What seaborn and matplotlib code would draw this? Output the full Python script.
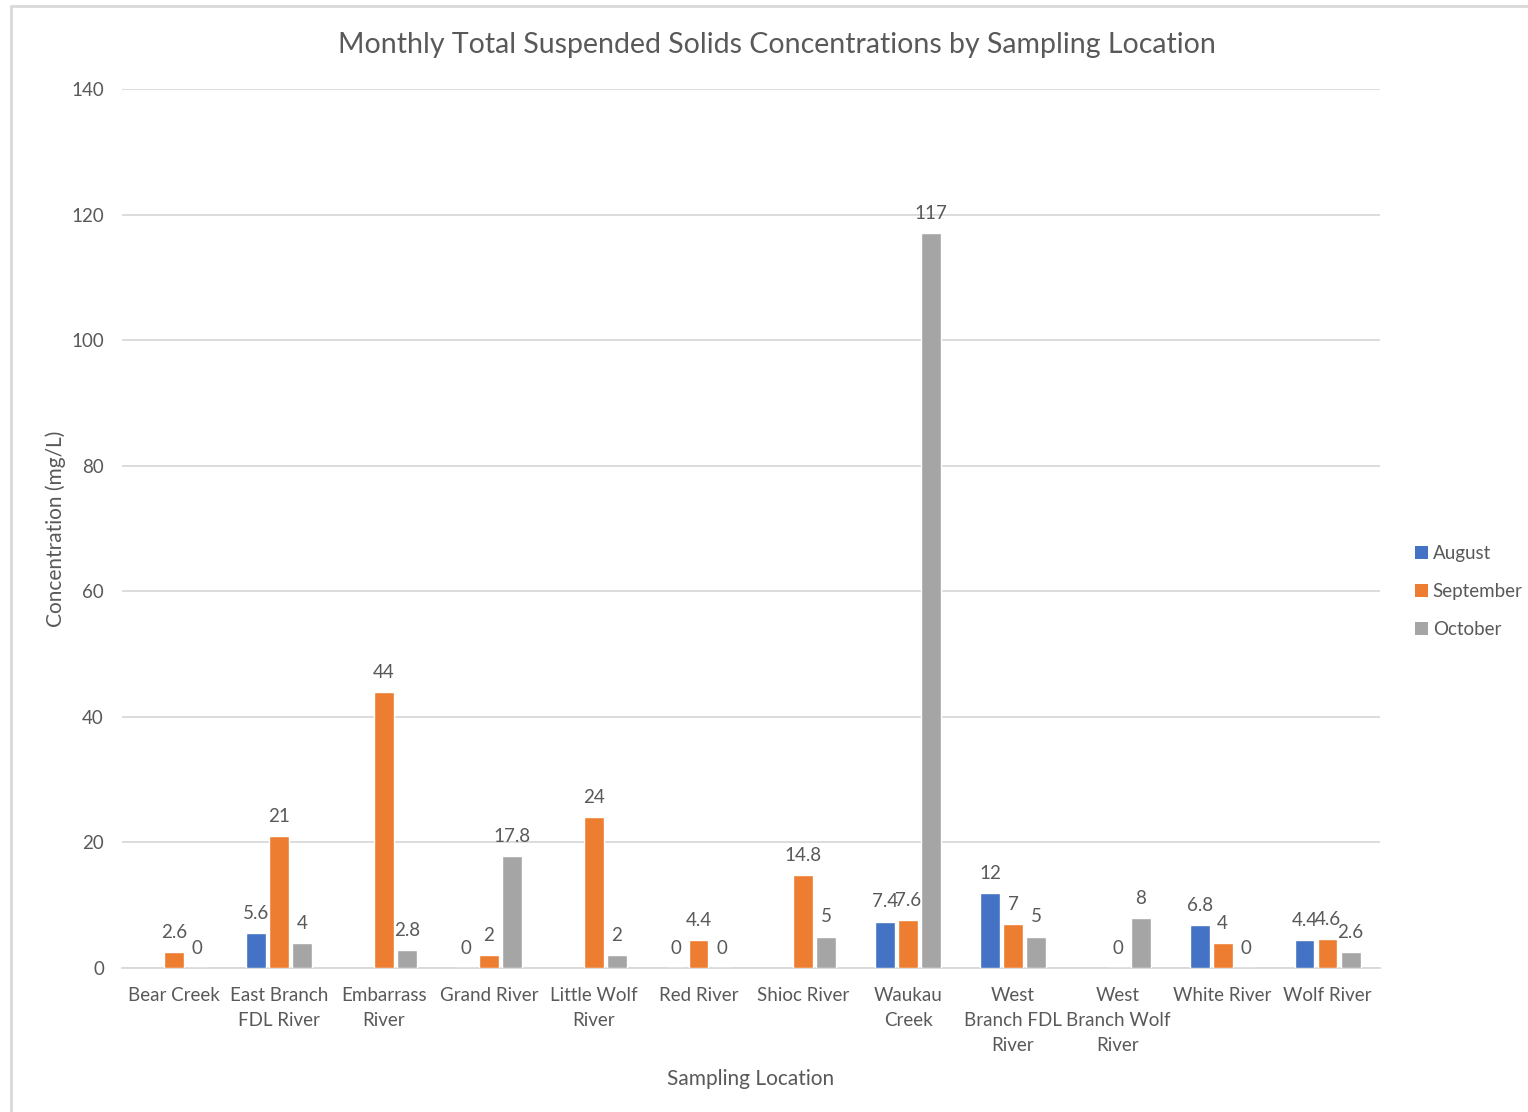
import numpy as np
import pandas as pd
import seaborn as sns
import matplotlib.pyplot as plt
from matplotlib.lines import Line2D
from matplotlib.patches import Patch

locations = ["Bear Creek", "East Branch\nFDL River", "Embarrass\nRiver", "Grand River",
             "Little Wolf\nRiver", "Red River", "Shioc River", "Waukau\nCreek",
             "West\nBranch FDL\nRiver", "West\nBranch Wolf\nRiver", "White River", "Wolf River"]
august = [np.nan, 5.6, np.nan, 0, np.nan, 0, np.nan, 7.4, 12, np.nan, 6.8, 4.4]
september = [2.6, 21, 44, 2, 24, 4.4, 14.8, 7.6, 7, 0, 4, 4.6]
october = [0, 4, 2.8, 17.8, 2, 0, 5, 117, 5, 8, 0, 2.6]
months = ["August", "September", "October"]
colors = ["#4472C4", "#ED7D31", "#A5A5A5"]

df = pd.DataFrame({"Location": locations * 3,
                   "Month": [m for m in months for _ in locations],
                   "Value": august + september + october}).dropna()

sns.set_theme(style="white")
plt.rcParams["font.family"] = ["Lato", "DejaVu Sans"]
txt = "#595959"
grid = "#d9d9d9"

fig = plt.figure(figsize=(15.28, 11.12), dpi=100)
ax = fig.add_axes([0.0798, 0.1295, 0.8233, 0.7905])

sns.barplot(data=df, x="Location", y="Value", hue="Month", order=locations,
            hue_order=months, palette=colors, width=0.66, gap=0.14,
            errorbar=None, ax=ax, legend=False, saturation=1, zorder=3)

for cont in ax.containers:
    ax.bar_label(cont, labels=[f"{v:g}" for v in cont.datavalues], padding=8,
                 fontsize=13.5, color=txt)

ax.set_ylim(0, 140)
ax.set_yticks(range(0, 141, 20))
ax.set_xlim(-0.5, len(locations) - 0.5)
ax.yaxis.grid(True, color=grid, linewidth=1.3, zorder=0)
ax.set_axisbelow(True)
for s in ["top", "right", "left"]:
    ax.spines[s].set_visible(False)
ax.spines["bottom"].set_color(grid)
ax.spines["bottom"].set_linewidth(1.3)
ax.tick_params(axis="both", length=0, colors=txt, labelsize=13.5)
ax.tick_params(axis="y", pad=13)
ax.tick_params(axis="x", pad=14)
for lbl in ax.get_xticklabels():
    lbl.set_linespacing(1.55)

ax.set_xlabel("Sampling Location", fontsize=15, color=txt, labelpad=11)
ax.set_ylabel("Concentration (mg/L)", fontsize=15, color=txt, labelpad=4)
ax.set_title("Monthly Total Suspended Solids Concentrations by Sampling Location",
             fontsize=20.5, color=txt, pad=26, x=0.521)

handles = [Patch(facecolor=c, edgecolor="none") for c in colors]
fig.legend(handles, months, loc="center left", bbox_to_anchor=(0.915, 0.468),
           frameon=False, fontsize=13.5, labelcolor=txt, handlelength=0.7,
           handleheight=0.7, handletextpad=0.25, labelspacing=1.1)

# outer chart frame
fig.add_artist(Line2D([10.5 / 1528, 10.5 / 1528], [0, 1 - 5.5 / 1112],
                      transform=fig.transFigure, color=grid, linewidth=2))
fig.add_artist(Line2D([10.5 / 1528, 1], [1 - 5.5 / 1112, 1 - 5.5 / 1112],
                      transform=fig.transFigure, color=grid, linewidth=2))

fig.savefig("out.png", dpi=100, facecolor="white")
